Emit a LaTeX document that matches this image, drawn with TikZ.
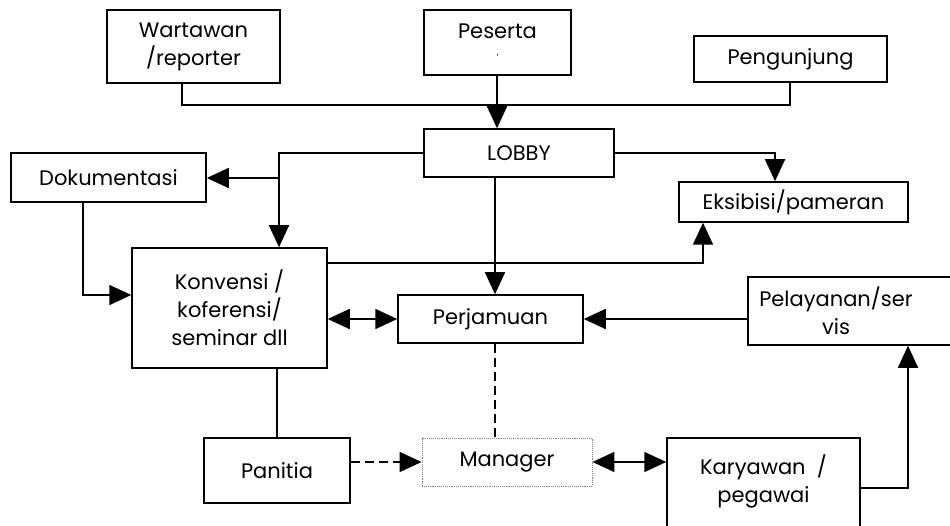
\documentclass[tikz,border=0pt]{standalone}
\usepackage{fontspec}
\setmainfont{Poppins}
\usetikzlibrary{arrows.meta,calc}
\begin{document}
\begin{tikzpicture}[x=1pt,y=-1pt,
  txt/.style={inner sep=0pt, align=center, font=\fontsize{21}{28}\selectfont},
  blk/.style={txt, draw, line width=1.5pt},
  conn/.style={line width=1.7pt},
  tip/.style={conn, -{Triangle[length=22pt,width=20pt]}},
  twotip/.style={conn, {Triangle[length=22pt,width=20pt]}-{Triangle[length=22pt,width=20pt]}},
  dash line/.style={line width=1.7pt, dash pattern=on 9pt off 5pt},
]
\useasboundingbox (0,0) rectangle (950,526);
\fill[white] (0,0) rectangle (950,526);
\clip (0,0) rectangle (950,526);

% top row
\node[blk, minimum width=173pt, minimum height=73pt] (wart) at (193.5,46.5) {Wartawan\\/reporter};
\node[blk, minimum width=147pt, minimum height=65pt] (pes) at (497.5,42.5) {Peserta\\[-6pt]{\fontsize{9}{9}\selectfont '}};
\node[blk, minimum width=193pt, minimum height=46pt] (peng) at (790.5,59) {Pengunjung};

% middle rows
\node[blk, minimum width=190pt, minimum height=48pt] (lobby) at (519,153) {LOBBY};
\node[blk, minimum width=195pt, minimum height=49pt] (dok) at (108.5,177.5) {Dokumentasi};
\node[blk, minimum width=229pt, minimum height=40pt] (eks) at (793.5,202) {Eksibisi/pameran};
\node[blk, minimum width=195pt, minimum height=120pt] (konv) at (229.5,308) {Konvensi /\\koferensi/\\seminar dll};
\node[blk, minimum width=185pt, minimum height=48pt] (perj) at (490.5,319) {Perjamuan};
\node[draw, line width=1.5pt, minimum width=232pt, minimum height=68pt] (pel) at (864,311) {};
\node[txt] (peltxt) at (836,311) {Pelayanan/ser\\vis};

% bottom row
\node[blk, minimum width=146pt, minimum height=65pt] (pan) at (277,470.5) {Panitia};
\node[txt, draw=gray, densely dotted, line width=0.9pt, minimum width=170pt, minimum height=48pt] (man) at (507,462) {Manager};
\node[draw, line width=1.5pt, minimum width=193pt, minimum height=122pt] (kary) at (763.5,499) {};
\node[txt] (karytxt) at (763.5,481) {Karyawan~~/\\pegawai};

% junction points
\coordinate (jt) at (497,105);
\coordinate (cx) at (495,0);
\coordinate (lk) at (279,153);
\coordinate (ld) at (279,178);

% visitors into the lobby
\draw[conn] ([xshift=-11.5pt]wart.south) |- (jt);
\draw[conn] ([xshift=-0.5pt]peng.south) |- (jt);
\draw[tip] (pes.south -| jt) -- (lobby.north -| jt);

% lobby outputs
\draw[tip] (lobby.west) -- (lk) -- (konv.north -| lk);
\draw[tip] (ld) -- (dok.east |- ld);
\draw[tip] (lobby.east) -| ([xshift=-18.5pt]eks.north);
\draw[tip] (lobby.south -| cx) -- (perj.north -| cx);

% convention links
\draw[tip] ([yshift=45pt]konv.east) -| ([xshift=-90.5pt]eks.south);
\draw[twotip] (konv.east |- perj.west) -- (perj.west);
\draw[tip] (pel.west |- perj.east) -- (perj.east);
\draw[tip] ([xshift=-25.5pt]dok.south) |- ([yshift=13pt]konv.west);
\draw[line width=1.1pt] (konv.south -| pan.north) -- (pan.north);

% management
\draw[dash line, -{Triangle[length=22pt,width=20pt]}] (pan.east |- man.west) -- (man.west);
\draw[dash line] (perj.south -| cx) -- (man.north -| cx);
\draw[twotip] (man.east) -- (kary.west |- man.east);
\draw[tip] ([yshift=11pt]kary.east) -| ([xshift=44pt]pel.south);
\end{tikzpicture}
\end{document}
